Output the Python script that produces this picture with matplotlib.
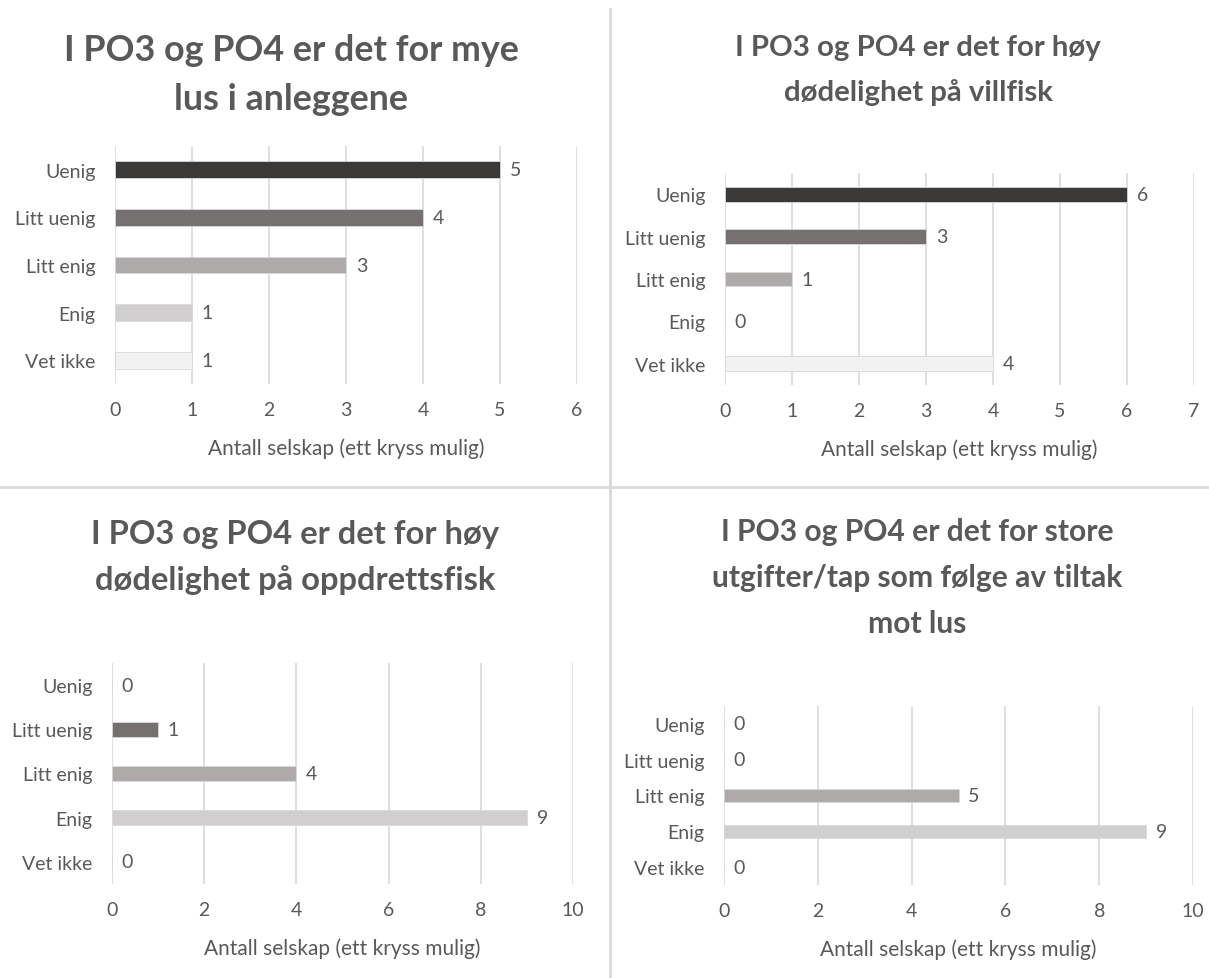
import matplotlib
matplotlib.use('Agg')
import matplotlib.pyplot as plt

W, H = 1209, 979
DPI = 100

plt.rcParams['font.family'] = ['Lato', 'DejaVu Sans']

categories = ['Uenig', 'Litt uenig', 'Litt enig', 'Enig', 'Vet ikke']
barColors = ['#3b3838', '#767171', '#aeaaaa', '#d0cece', '#f2f2f2']

titleLus = 'I PO3 og PO4 er det for mye\nlus i anleggene'
valuesLus = [5, 4, 3, 1, 1]
ticksLus = [0, 1, 2, 3, 4, 5, 6]

titleVillfisk = 'I PO3 og PO4 er det for høy\ndødelighet på villfisk'
valuesVillfisk = [6, 3, 1, 0, 4]
ticksVillfisk = [0, 1, 2, 3, 4, 5, 6, 7]

titleOppdrett = 'I PO3 og PO4 er det for høy\ndødelighet på oppdrettsfisk'
valuesOppdrett = [0, 1, 4, 9, 0]
ticksOppdrett = [0, 2, 4, 6, 8, 10]

titleUtgifter = 'I PO3 og PO4 er det for store\nutgifter/tap som følge av tiltak\nmot lus'
valuesUtgifter = [0, 0, 5, 9, 0]
ticksUtgifter = [0, 2, 4, 6, 8, 10]

xLabel = 'Antall selskap (ett kryss mulig)'

TEXT = '#595959'
GRID = '#d9d9d9'
LABEL_SIZE = 14


def pixelBox(left, top, right, bottom):
    return [left / W, 1 - bottom / H, (right - left) / W, (bottom - top) / H]


def drawPanel(fig, box, values, ticks, title, titlePos, titleSize, titleSpacing):
    ax = fig.add_axes(pixelBox(*box))
    ypos = list(range(len(categories)))
    ax.barh(ypos, values, height=0.35, color=barColors,
            edgecolor='#d9d9d9', linewidth=0.6, zorder=3)
    for y, v in zip(ypos, values):
        ax.annotate(str(v), (v, y), xytext=(7, 0), textcoords='offset points',
                    ha='left', va='center', fontsize=LABEL_SIZE, color=TEXT)
    ax.set_xlim(ticks[0], ticks[-1])
    ax.set_ylim(len(categories) - 0.5, -0.5)
    ax.set_xticks(ticks)
    ax.set_yticks(ypos)
    ax.set_yticklabels(categories)
    ax.tick_params(axis='both', length=0, labelsize=LABEL_SIZE, labelcolor=TEXT)
    ax.tick_params(axis='x', pad=12)
    ax.tick_params(axis='y', pad=14)
    ax.xaxis.grid(True, color=GRID, linewidth=1.2, zorder=0)
    for s in ax.spines.values():
        s.set_visible(False)
    ax.set_xlabel(xLabel, fontsize=15, color=TEXT, labelpad=14)
    fig.text(titlePos[0] / W, 1 - titlePos[1] / H, title, ha='center', va='top',
             fontsize=titleSize, fontweight='bold', color=TEXT,
             linespacing=titleSpacing)
    return ax


fig = plt.figure(figsize=(W / DPI, H / DPI), dpi=DPI)
fig.patch.set_facecolor('white')

drawPanel(fig, (115, 147, 577, 385), valuesLus, ticksLus,
          titleLus, (291, 34), 25.8, 1.58)
drawPanel(fig, (725, 174, 1194, 386), valuesVillfisk, ticksVillfisk,
          titleVillfisk, (918, 35), 21.2, 1.8)
drawPanel(fig, (112, 664, 573, 885), valuesOppdrett, ticksOppdrett,
          titleOppdrett, (295, 520), 23.6, 1.64)
drawPanel(fig, (724, 707, 1193, 886), valuesUtgifter, ticksUtgifter,
          titleUtgifter, (917, 518), 21.6, 1.78)

# separators between the four charts
fig.add_artist(plt.Line2D([610 / W, 610 / W], [0, 1 - 10 / H],
                          color=GRID, linewidth=2))
fig.add_artist(plt.Line2D([0, 1], [1 - 488 / H, 1 - 488 / H],
                          color=GRID, linewidth=2))

fig.savefig('out.png', dpi=DPI)
